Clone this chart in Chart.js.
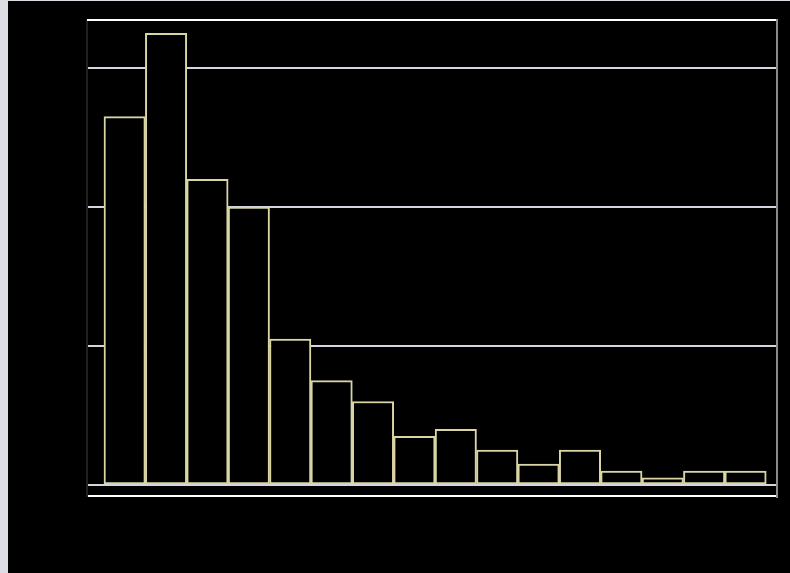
<!DOCTYPE html>
<html>
<head>
<meta charset="utf-8">
<script src="https://cdn.jsdelivr.net/npm/chart.js@4/dist/chart.umd.min.js"></script>
<style>
  html, body { margin: 0; padding: 0; background: #dcdce4; }
  #wrap { position: absolute; left: 8px; top: 1px; width: 782px; height: 572px; background: #000; }
</style>
</head>
<body>
<div id="wrap"><canvas id="chart"></canvas></div>
<script>
// histogram bins (left to right) and bar heights
const bins = [1, 2, 3, 4, 5, 6, 7, 8, 9, 10, 11, 12, 13, 14, 15, 16];
const heights = [2.65, 3.25, 2.2, 2.0, 1.05, 0.75, 0.6, 0.35, 0.4, 0.25, 0.15, 0.25, 0.1, 0.05, 0.1, 0.1];
const yTicks = [0, 1, 2, 3];

// frame lines on top and right side of the plot
const frame = {
    id: "frame",
    afterDraw(chart) {
        let { ctx, chartArea: a } = chart;
        ctx.save();
        ctx.lineWidth = 2;
        ctx.strokeStyle = "#ffffff";
        ctx.beginPath();
        ctx.moveTo(a.left, a.top);
        ctx.lineTo(a.right, a.top);
        ctx.stroke();
        ctx.strokeStyle = "#8a8a8a";
        ctx.beginPath();
        ctx.moveTo(a.right, a.top - 1);
        ctx.lineTo(a.right, a.bottom + 2);
        ctx.stroke();
        ctx.restore();
    }
};

new Chart("chart", {
    type: "bar",
    data: {
        datasets: [{
            data: bins.map((b, i) => ({ x: b, y: heights[i] })),
            backgroundColor: "#000000",
            borderColor: "#d9d5a4",
            borderWidth: 2,
            borderSkipped: false,
            categoryPercentage: 1,
            barPercentage: 1
        }]
    },
    options: {
        responsive: true,
        maintainAspectRatio: false,
        animation: false,
        layout: { padding: { left: 79, right: 13, top: 19, bottom: 69 } },
        plugins: { legend: { display: false }, tooltip: { enabled: false } },
        scales: {
            x: {
                type: "linear",
                offset: false,
                min: 0.09,
                max: 16.76,
                grid: { display: false, offset: false },
                border: { display: true, color: "#ffffff", width: 2 },
                ticks: { display: false }
            },
            y: {
                min: -0.08,
                max: 3.346,
                afterBuildTicks: scale => { scale.ticks = yTicks.map(v => ({ value: v })); },
                grid: { color: "#d4d4e2", lineWidth: 2, drawTicks: false },
                border: { display: true, color: "#202020", width: 2 },
                ticks: { display: false }
            }
        }
    },
    plugins: [frame]
});
</script>
</body>
</html>
